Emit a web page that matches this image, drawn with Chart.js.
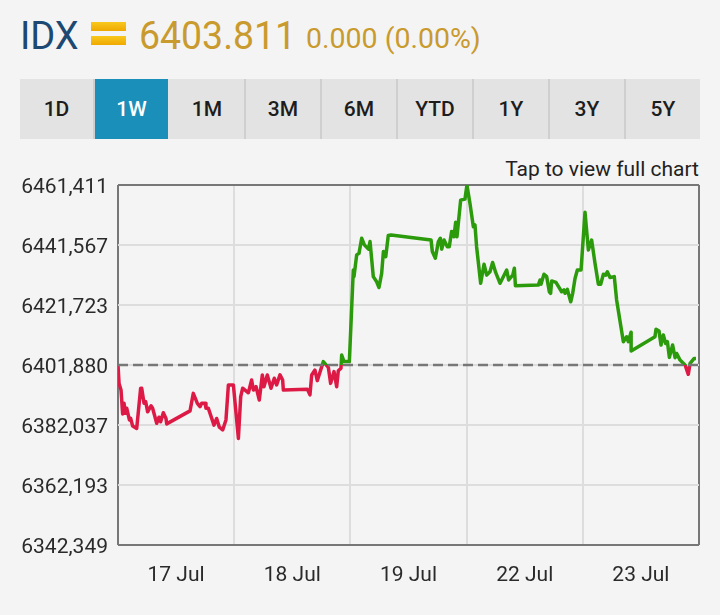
<!DOCTYPE html>
<html>
<head>
<meta charset="utf-8">
<title>IDX</title>
<script src="https://cdn.jsdelivr.net/npm/chart.js@4"></script>
<style>
  html, body { margin: 0; padding: 0; background: #f4f4f4; width: 720px; height: 615px; overflow: hidden; font-family: Roboto, sans-serif; }
  .abs { position: absolute; white-space: nowrap; line-height: 1; }
  #name { left: 20px; top: 17px; font-size: 38px; color: #1c4872; }
  #last { left: 139px; top: 17px; font-size: 38px; color: #c99a2e; transform-origin: left; transform: scaleX(0.985); }
  #change { left: 306px; top: 25px; font-size: 28.5px; color: #c99a2e; }
  .flat { left: 91px; width: 35px; height: 9px; background: linear-gradient(#f8c81e, #efa900); }
  #tabs { position: absolute; left: 20px; top: 79px; width: 680px; height: 60px; display: flex; background: #e3e3e3; }
  #tabs div { flex: 0 0 76px; box-sizing: border-box; border-right: 2px solid #cfcfcf; background-clip: padding-box; text-align: center; line-height: 60px; font-size: 21px; font-weight: 500; color: #1d1d1d; }
  #tabs div:nth-child(1), #tabs div:nth-child(2) { flex-basis: 75px; }
  #tabs div:last-child { flex: 1 1 0; border-right: 0; }
  #tabs div.on { background-color: #1a8fba; color: #fff; border-right-color: #e3e3e3; }
  #tap { right: 21px; top: 159px; font-size: 21px; color: #222; }
  #wrap { position: absolute; left: 0; top: 160px; width: 720px; height: 455px; }
</style>
</head>
<body>
<div class="abs" id="name">IDX</div>
<div class="abs flat" style="top:22px"></div>
<div class="abs flat" style="top:36px"></div>
<div class="abs" id="last">6403.811</div>
<div class="abs" id="change">0.000 (0.00%)</div>
<div id="tabs"></div>
<div class="abs" id="tap">Tap to view full chart</div>
<div id="wrap"><canvas id="idxChart" width="720" height="455"></canvas></div>
<script>
const tabNames = ["1D", "1W", "1M", "3M", "6M", "YTD", "1Y", "3Y", "5Y"];
const activeTab = "1W";
const prevClose = 6401.88;

const yTicks = [6461.411, 6441.567, 6421.723, 6401.88, 6382.037, 6362.193, 6342.349];
const yTickLabels = ["6461,411", "6441,567", "6421,723", "6401,880", "6382,037", "6362,193", "6342,349"];
const xTicks = [0, 0.5, 1, 1.5, 2, 2.5, 3, 3.5, 4, 4.5, 5];
const xTickLabels = ["", "17 Jul", "", "18 Jul", "", "19 Jul", "", "22 Jul", "", "23 Jul", ""];

// x is in trading days from the left edge
const times = [
  0, 0.009, 0.026, 0.04, 0.052, 0.063, 0.075, 0.098, 0.109, 0.126, 0.161, 0.195, 0.204, 0.224, 0.238, 0.255,
  0.284, 0.298, 0.333, 0.353, 0.367, 0.39, 0.413, 0.419, 0.62, 0.648, 0.683, 0.706, 0.72, 0.749, 0.757, 0.777,
  0.826, 0.849, 0.872, 0.901, 0.929, 0.95, 0.993, 1.036, 1.056, 1.073, 1.122, 1.15, 1.165, 1.188, 1.216, 1.242,
  1.256, 1.285, 1.317, 1.345, 1.365, 1.394, 1.417, 1.423, 1.629, 1.652, 1.667, 1.695, 1.715, 1.767, 1.81, 1.83,
  1.859, 1.882, 1.896, 1.919, 1.925, 1.945, 1.991,
  2.025, 2.031, 2.054, 2.074, 2.097, 2.12, 2.155, 2.169, 2.197, 2.226, 2.246, 2.269, 2.284, 2.304, 2.326, 2.35,
  2.694, 2.705, 2.731, 2.757, 2.774, 2.786, 2.806, 2.834, 2.851, 2.871, 2.891, 2.906, 2.917, 2.949, 2.986, 3.003,
  3.029, 3.058, 3.072, 3.086, 3.121, 3.15, 3.173, 3.201, 3.224, 3.25, 3.288, 3.345, 3.362, 3.397, 3.411, 3.42,
  3.617, 3.632, 3.64, 3.666, 3.689, 3.712, 3.723, 3.732, 3.769, 3.818, 3.838, 3.847, 3.867, 3.896, 3.913, 3.933,
  3.953, 3.985, 4.019, 4.048, 4.076, 4.105, 4.134, 4.154, 4.177, 4.197, 4.211, 4.234, 4.271, 4.291, 4.349, 4.377,
  4.392, 4.415, 4.416, 4.621, 4.63, 4.656, 4.673, 4.693, 4.713, 4.728, 4.745, 4.773, 4.794, 4.808, 4.837, 4.88,
  4.908, 4.923, 4.957, 4.974
];
const closes = [
  6401.9, 6395.8, 6393.6, 6385.7, 6389.2, 6385.9, 6387.6, 6383.7, 6384.2, 6381.7, 6380.9, 6394.2, 6394.2, 6389.2, 6389.8, 6386.4,
  6388.4, 6387.6, 6382.6, 6384.6, 6383.1, 6386.1, 6384.2, 6382.4, 6386.7, 6392.5, 6389.2, 6388.1, 6389.2, 6389.2, 6387.6, 6387.6,
  6382.0, 6384.2, 6381.3, 6380.4, 6383.7, 6395.3, 6395.3, 6377.6, 6391.4, 6394.2, 6392.7, 6396.9, 6393.6, 6394.7, 6390.3, 6398.6,
  6394.7, 6398.6, 6394.2, 6397.5, 6395.3, 6398.6, 6396.9, 6393.6, 6393.9, 6392.0, 6398.6, 6400.2, 6396.7, 6403.0, 6401.1, 6395.8,
  6399.7, 6394.7, 6400.0, 6400.8, 6405.2, 6403.0, 6403.0,
  6433.3, 6431.1, 6438.3, 6438.8, 6443.8, 6441.6, 6440.2, 6442.7, 6431.1, 6429.4, 6427.5, 6432.2, 6439.4, 6437.7, 6444.7, 6444.9,
  6443.2, 6439.4, 6437.2, 6442.7, 6443.8, 6440.2, 6443.2, 6441.0, 6441.0, 6446.0, 6444.3, 6449.1, 6444.3, 6456.4, 6456.8, 6461.4,
  6455.3, 6447.6, 6448.2, 6441.0, 6428.9, 6435.2, 6431.6, 6432.7, 6435.8, 6432.5, 6428.9, 6433.3, 6430.0, 6431.6, 6433.9, 6428.1,
  6428.3, 6430.0, 6428.6, 6431.9, 6431.1, 6426.1, 6425.6, 6429.7, 6429.2, 6426.1, 6426.7, 6425.6, 6426.9, 6422.8, 6425.6, 6430.5,
  6433.3, 6433.3, 6452.4, 6439.9, 6443.2, 6435.5, 6428.6, 6428.6, 6431.9, 6431.6, 6432.7, 6430.8, 6431.1, 6423.4, 6409.6, 6411.2,
  6409.6, 6412.7, 6406.5, 6411.2, 6413.7, 6413.1, 6408.5, 6411.8, 6409.0, 6409.6, 6404.4, 6408.5, 6404.3, 6405.7, 6403.5, 6401.9,
  6398.8, 6402.4, 6404.0, 6404.0
];

const tabsEl = document.getElementById("tabs");
tabsEl.innerHTML = tabNames
  .map((t) => `<div class="${t === activeTab ? "on" : ""}">${t}</div>`)
  .join("");

// green above the previous close, red below it
function splitColor(ctx) {
  const chart = ctx.chart;
  if (!chart.chartArea) return "#2b9a0b";
  const { top, bottom } = chart.chartArea;
  const stop = (chart.scales.y.getPixelForValue(prevClose) - top) / (bottom - top);
  const grad = chart.ctx.createLinearGradient(0, top, 0, bottom);
  grad.addColorStop(0, "#2b9a0b");
  grad.addColorStop(stop, "#2b9a0b");
  grad.addColorStop(stop, "#dc1a45");
  grad.addColorStop(1, "#dc1a45");
  return grad;
}

const frameColor = "#777777";
const gridColor = "#dddddd";

new Chart(document.getElementById("idxChart").getContext("2d"), {
  type: "line",
  data: {
    datasets: [
      {
        data: [{ x: 0, y: prevClose }, { x: 5, y: prevClose }],
        borderColor: "#777777",
        borderWidth: 2.5,
        borderDash: [10, 5],
        pointRadius: 0,
        order: 0,
      },
      {
        data: times.map((t, i) => ({ x: t, y: closes[i] })),
        borderColor: splitColor,
        borderWidth: 3.5,
        borderJoinStyle: "round",
        pointRadius: 0,
        tension: 0,
        order: 1,
      },
    ],
  },
  options: {
    responsive: false,
    animation: false,
    layout: { padding: { top: 25, right: 21, left: 0, bottom: 0 } },
    plugins: { legend: { display: false }, tooltip: { enabled: false } },
    scales: {
      x: {
        type: "linear",
        min: 0,
        max: 5,
        afterBuildTicks: (axis) => { axis.ticks = xTicks.map((v) => ({ value: v })); },
        afterFit: (axis) => { axis.height = 70; },
        border: { display: false },
        grid: {
          drawTicks: false,
          lineWidth: 2,
          color: (c) => {
            const v = c.tick.value;
            if (v === 0 || v === 5) return frameColor;
            return Number.isInteger(v) ? gridColor : "rgba(0,0,0,0)";
          },
        },
        ticks: {
          autoSkip: false,
          maxRotation: 0,
          padding: 18,
          color: "#2a2a2a",
          font: { family: "Roboto", size: 21 },
          callback: (v) => xTickLabels[xTicks.indexOf(v)],
        },
      },
      y: {
        min: yTicks[yTicks.length - 1],
        max: yTicks[0],
        afterBuildTicks: (axis) => { axis.ticks = yTicks.map((v) => ({ value: v })); },
        afterFit: (axis) => { axis.width = 118; },
        border: { display: false },
        grid: {
          drawTicks: false,
          lineWidth: 2,
          color: (c) => {
            const v = c.tick.value;
            return v === yTicks[0] || v === yTicks[yTicks.length - 1] ? frameColor : gridColor;
          },
        },
        ticks: {
          autoSkip: false,
          padding: 10,
          labelOffset: 3,
          color: "#2a2a2a",
          font: { family: "Roboto", size: 21 },
          callback: (v) => yTickLabels[yTicks.indexOf(v)],
        },
      },
    },
  },
});
</script>
</body>
</html>
